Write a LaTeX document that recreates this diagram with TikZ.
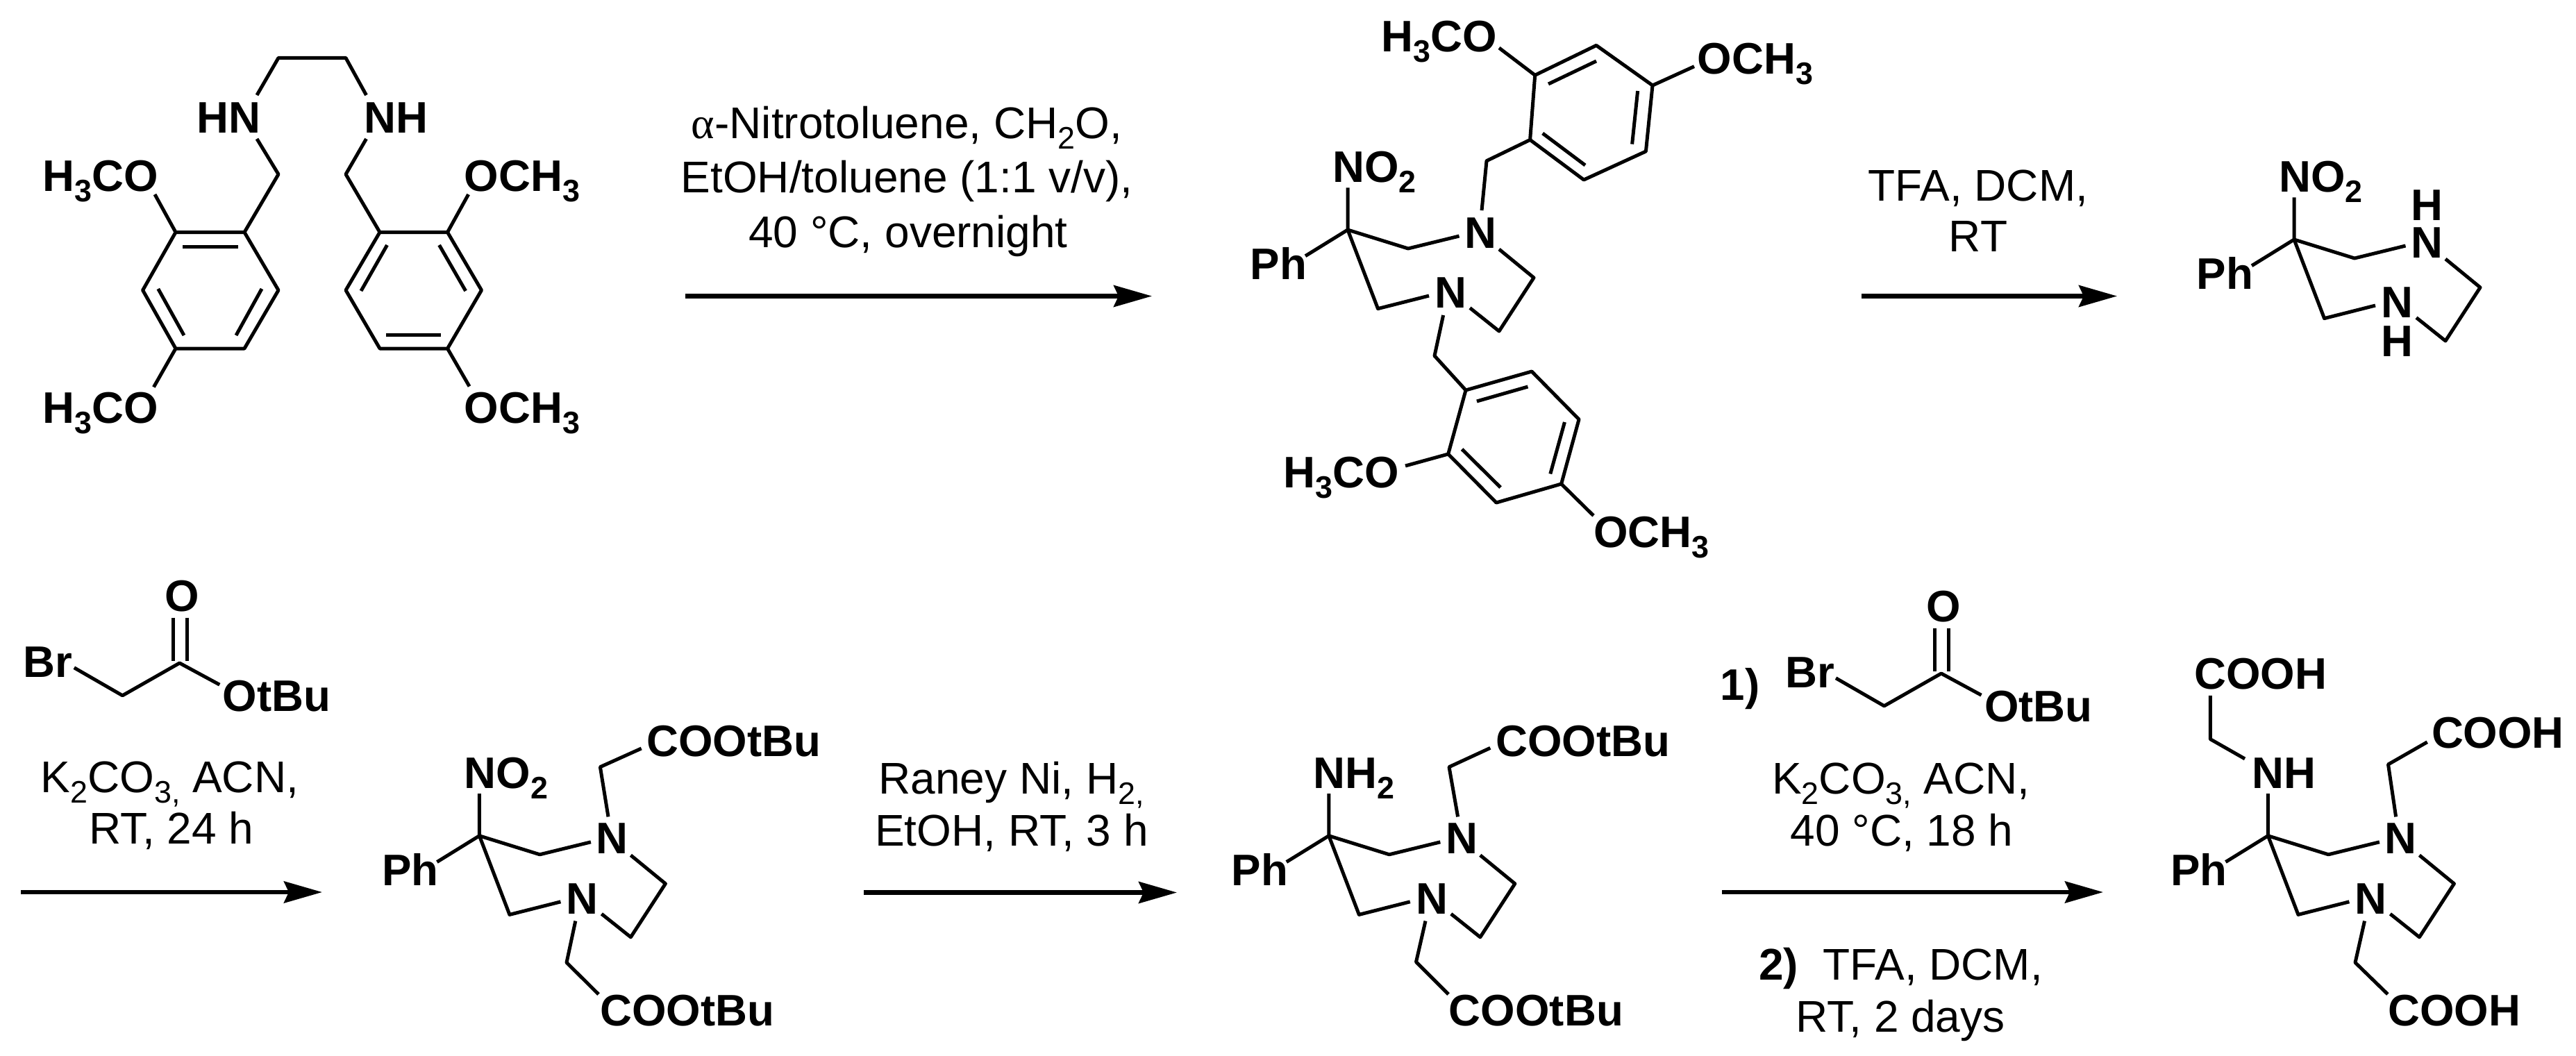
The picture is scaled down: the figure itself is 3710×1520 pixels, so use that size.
\documentclass[tikz,border=0pt]{standalone}
\usepackage{fontspec}
\setmainfont{Liberation Sans}
\newfontfamily\grk{Liberation Serif}
\usetikzlibrary{arrows.meta}
\newcommand\sbb[1]{\raisebox{-0.24em}{\fontsize{25.5pt}{26pt}\selectfont #1}}
\tikzset{
  bond/.style={line width=1mm,line join=round},
  rxarrow/.style={line width=1.25mm,-{Stealth[length=11mm,width=6.2mm,inset=1.4mm]}},
  atom/.style={anchor=base west,inner sep=0pt,font=\fontsize{36.2pt}{42pt}\selectfont\bfseries},
  reag/.style={anchor=base,inner sep=0pt,font=\fontsize{36.4pt}{42pt}\selectfont},
}
% diazepane core: #1 prefix, #2 position of the quaternary carbon
\newcommand\core[2]{%
\begin{scope}[shift={(#2)}]
  \coordinate (#1C) at (0,0);
  \coordinate (#1up) at (0,-60.6);
  \coordinate (#1ph) at (-61,37.7);
  \coordinate (#1a) at (87,27);
  \coordinate (#1ae) at (160.5,9);
  \coordinate (#1b) at (43.5,113.6);
  \coordinate (#1be) at (117,95);
  \coordinate (#1r1) at (218,28);
  \coordinate (#1r2) at (268,69);
  \coordinate (#1r3) at (218,146);
  \coordinate (#1r4) at (176,112.5);
  \node[atom] (#1Ph) at (-140.5,71.5) {Ph};
  \node[atom] (#1Na) at (168,26) {N};
  \node[atom] (#1Nb) at (125,112.5) {N};
  \draw[bond] (#1up) -- (#1C) -- (#1ph);
  \draw[bond] (#1C) -- (#1a) -- (#1ae);
  \draw[bond] (#1C) -- (#1b) -- (#1be);
  \draw[bond] (#1r1) -- (#1r2) -- (#1r3) -- (#1r4);
\end{scope}}
% bromoacetate: #1 prefix, #2 position of the carbonyl carbon
\newcommand\brest[2]{%
\begin{scope}[shift={(#2)}]
  \coordinate (#1C) at (0,0);
  \coordinate (#1br) at (-151.8,6.7);
  \coordinate (#1m) at (-82.2,46.8);
  \coordinate (#1oe) at (57.7,31.2);
  \coordinate (#1d1) at (-9.6,-65.5);
  \coordinate (#1d2) at (-9.6,-3);
  \coordinate (#1d3) at (11,-65.5);
  \coordinate (#1d4) at (11,-3);
  \node[atom] (#1Br) at (-225,20.8) {Br};
  \node[atom] (#1O) at (-21.5,-74.5) {O};
  \node[atom] (#1Ot) at (62,69.5) {OtBu};
  \draw[bond] (#1br) -- (#1m) -- (#1C) -- (#1oe);
  \draw[bond] (#1d1) -- (#1d2) (#1d3) -- (#1d4);
\end{scope}}
\begin{document}
\begin{tikzpicture}[x=0.2mm,y=-0.2mm]
\useasboundingbox (0,0) rectangle (3710,1520);
\fill[white] (0,0) rectangle (3710,1520);

% ---------- starting diamine ----------
\coordinate (e1) at (401,83.4); \coordinate (e2) at (498,83.4);
\coordinate (e1a) at (370,137); \coordinate (e2a) at (527.5,137);
\coordinate (e1b) at (370,200); \coordinate (e2b) at (527.5,200);
\coordinate (m1) at (401,251); \coordinate (m2) at (498,251);
\coordinate (A1) at (352,334.5); \coordinate (A2) at (253,334.5); \coordinate (A3) at (205.6,418);
\coordinate (A4) at (253,502); \coordinate (A5) at (352,502); \coordinate (A6) at (401,418);
\coordinate (B1) at (547,334.5); \coordinate (B2) at (644.5,334.5); \coordinate (B3) at (693.5,418);
\coordinate (B4) at (644.5,502); \coordinate (B5) at (547,502); \coordinate (B6) at (498,418);
\coordinate (oa) at (223,280); \coordinate (ob) at (221.4,557.5);
\coordinate (oc) at (674.6,280); \coordinate (od) at (676,556.5);
\node[atom] (HN) at (283,191.5) {HN};
\node[atom] (NH) at (524,191.5) {NH};
\node[atom] (t1) at (61,275) {H\sbb{3}CO};
\node[atom] (t2) at (61,609) {H\sbb{3}CO};
\node[atom] (t3) at (668.5,275) {OCH\sbb{3}};
\node[atom] (t4) at (668.5,609) {OCH\sbb{3}};
\draw[bond] (e1a) -- (e1) -- (e2) -- (e2a);
\draw[bond] (e1b) -- (m1) -- (A1) -- (A2) -- (A3) -- (A4) -- (A5) -- (A6) -- (A1);
\draw[bond] (e2b) -- (m2) -- (B1) -- (B2) -- (B3) -- (B4) -- (B5) -- (B6) -- (B1);
\draw[bond] (A2) -- (oa) (A4) -- (ob) (B2) -- (oc) (B4) -- (od);
\draw[bond] (263,355) coordinate (i1) -- (342.5,355) coordinate (i2);
\draw[bond] (227.8,416) coordinate (i3) -- (265,483) coordinate (i4);
\draw[bond] (377,416) coordinate (i5) -- (340,483) coordinate (i6);
\draw[bond] (557.5,353) coordinate (i7) -- (520,419) coordinate (i8);
\draw[bond] (632.6,353) coordinate (i9) -- (670.6,419) coordinate (i10);
\draw[bond] (556,482) coordinate (i11) -- (635,482) coordinate (i12);

% ---------- step 1 ----------
\coordinate (a1s) at (987,426.5); \coordinate (a1e) at (1659,426.5);
\draw[rxarrow] (a1s) -- (a1e);
\node[reag] (r1a) at (1306,199.5) {{\grk α}-Nitrotoluene, CH\sbb{2}O,};
\node[reag] (r1b) at (1306,277.5) {EtOH/toluene (1:1 v/v),};
\node[reag] (r1c) at (1308,356.7) {40 °C, overnight};

% ---------- protected intermediate ----------
\core{P}{1941,331}
\node[atom] (PNO) at (1919,262.5) {NO\sbb{2}};
\coordinate (Pu1) at (2134,303); \coordinate (Pu2) at (2141,231.7);
\coordinate (U1) at (2203.6,201.4); \coordinate (U2) at (2210.7,108.3); \coordinate (U3) at (2299,65.4);
\coordinate (U4) at (2380,123); \coordinate (U5) at (2370.4,218); \coordinate (U6) at (2281,259);
\coordinate (uo1) at (2159,69); \coordinate (uo2) at (2440,95.7);
\draw[bond] (Pu1) -- (Pu2) -- (U1) -- (U2) -- (U3) -- (U4) -- (U5) -- (U6) -- (U1);
\draw[bond] (U2) -- (uo1) (U4) -- (uo2);
\draw[bond] (2230,121) coordinate (u1) -- (2299,88) coordinate (u2);
\draw[bond] (2358.6,131) coordinate (u3) -- (2350.6,207.6) coordinate (u4);
\draw[bond] (2283,238) coordinate (u5) -- (2221.7,192) coordinate (u6);
\node[atom] (t5) at (1989,74.3) {H\sbb{3}CO};
\node[atom] (t6) at (2444.5,106.6) {OCH\sbb{3}};
\coordinate (Pd1) at (2078.6,454); \coordinate (Pd2) at (2066,512.5);
\coordinate (L1) at (2111,562); \coordinate (L2) at (2206,535); \coordinate (L3) at (2274,604);
\coordinate (L4) at (2248.6,697); \coordinate (L5) at (2155,724); \coordinate (L6) at (2085.7,654);
\coordinate (lo1) at (2024,671); \coordinate (lo2) at (2295,742.7);
\draw[bond] (Pd1) -- (Pd2) -- (L1) -- (L2) -- (L3) -- (L4) -- (L5) -- (L6) -- (L1);
\draw[bond] (L6) -- (lo1) (L4) -- (lo2);
\draw[bond] (2126.9,578) coordinate (l1) -- (2200.4,557) coordinate (l2);
\draw[bond] (2253.4,608) coordinate (l3) -- (2232.8,682.5) coordinate (l4);
\draw[bond] (2161,702) coordinate (l5) -- (2105.5,647) coordinate (l6);
\node[atom] (t7) at (1848,702.4) {H\sbb{3}CO};
\node[atom] (t8) at (2295,788.7) {OCH\sbb{3}};

% ---------- step 2 ----------
\coordinate (a2s) at (2681,426.5); \coordinate (a2e) at (3049,426.5);
\draw[rxarrow] (a2s) -- (a2e);
\node[reag] (r2a) at (2849,289.4) {TFA, DCM,};
\node[reag] (r2b) at (2849,362.6) {RT};

% ---------- free diamine ----------
\core{Q}{3304,345}
\node[atom] (QNO) at (3282,276.3) {NO\sbb{2}};
\node[atom] (QHa) at (3472,317.5) {H};
\node[atom] (QHb) at (3429,513.8) {H};

% ---------- step 3 ----------
\brest{X}{258.6,955}
\coordinate (a3s) at (30,1285); \coordinate (a3e) at (464,1285);
\draw[rxarrow] (a3s) -- (a3e);
\node[reag] (r3a) at (244.4,1141) {K\sbb{2}CO\sbb{3,} ACN,};
\node[reag] (r3b) at (247,1215) {RT, 24 h};

% ---------- nitro diester ----------
\core{R}{690.4,1203.8}
\node[atom] (RNO) at (668.5,1135) {NO\sbb{2}};
\coordinate (Ru1) at (876,1176.4); \coordinate (Ru2) at (864.4,1104.7); \coordinate (Ru3) at (923.7,1078);
\coordinate (Rd1) at (828.8,1326.5); \coordinate (Rd2) at (816,1386.4); \coordinate (Rd3) at (862,1432);
\draw[bond] (Ru1) -- (Ru2) -- (Ru3);
\draw[bond] (Rd1) -- (Rd2) -- (Rd3);
\node[atom] (t9) at (931,1089) {COOtBu};
\node[atom] (t10) at (864,1477) {COOtBu};

% ---------- step 4 ----------
\coordinate (a4s) at (1244,1285.5); \coordinate (a4e) at (1695,1285.5);
\draw[rxarrow] (a4s) -- (a4e);
\node[reag] (r4a) at (1456.7,1143.4) {Raney Ni, H\sbb{2,}};
\node[reag] (r4b) at (1457,1218) {EtOH, RT, 3 h};

% ---------- amine diester ----------
\core{S}{1913.8,1203.8}
\node[atom] (SNH) at (1891,1135) {NH\sbb{2}};
\coordinate (Su1) at (2099.6,1176.4); \coordinate (Su2) at (2087,1104.7); \coordinate (Su3) at (2146.3,1077.3);
\coordinate (Sd1) at (2053,1326.5); \coordinate (Sd2) at (2039.5,1385.5); \coordinate (Sd3) at (2086,1432);
\draw[bond] (Su1) -- (Su2) -- (Su3);
\draw[bond] (Sd1) -- (Sd2) -- (Sd3);
\node[atom] (t11) at (2153.8,1089) {COOtBu};
\node[atom] (t12) at (2086.6,1477) {COOtBu};

% ---------- step 5 ----------
\node[atom] (one) at (2477.5,1008) {1)};
\brest{Y}{2795.8,970}
\coordinate (a5s) at (2480,1285); \coordinate (a5e) at (3029,1285);
\draw[rxarrow] (a5s) -- (a5e);
\node[reag] (r5a) at (2738,1143.4) {K\sbb{2}CO\sbb{3,} ACN,};
\node[reag] (r5b) at (2739,1218) {40 °C, 18 h};
\node[reag] (r5c) at (2737.6,1411.4) {\textbf{2)}\ \ TFA, DCM,};
\node[reag] (r5d) at (2737,1486.5) {RT, 2 days};

% ---------- triacid ----------
\core{T}{3266.4,1203.8}
\node[atom] (TNH) at (3243,1135) {NH};
\coordinate (Tn1) at (3233,1092.9); \coordinate (Tn2) at (3183.3,1064.6); \coordinate (Tn3) at (3183.3,1001.8);
\coordinate (Tu1) at (3450.6,1176.4); \coordinate (Tu2) at (3439.5,1101); \coordinate (Tu3) at (3495.7,1068.8);
\coordinate (Td1) at (3405.5,1326.5); \coordinate (Td2) at (3392,1386.4); \coordinate (Td3) at (3438.8,1432);
\draw[bond] (Tn1) -- (Tn2) -- (Tn3);
\draw[bond] (Tu1) -- (Tu2) -- (Tu3);
\draw[bond] (Td1) -- (Td2) -- (Td3);
\node[atom] (t13) at (3160,992.4) {COOH};
\node[atom] (t14) at (3501.6,1077.3) {COOH};
\node[atom] (t15) at (3439,1477) {COOH};
\end{tikzpicture}
\end{document}
